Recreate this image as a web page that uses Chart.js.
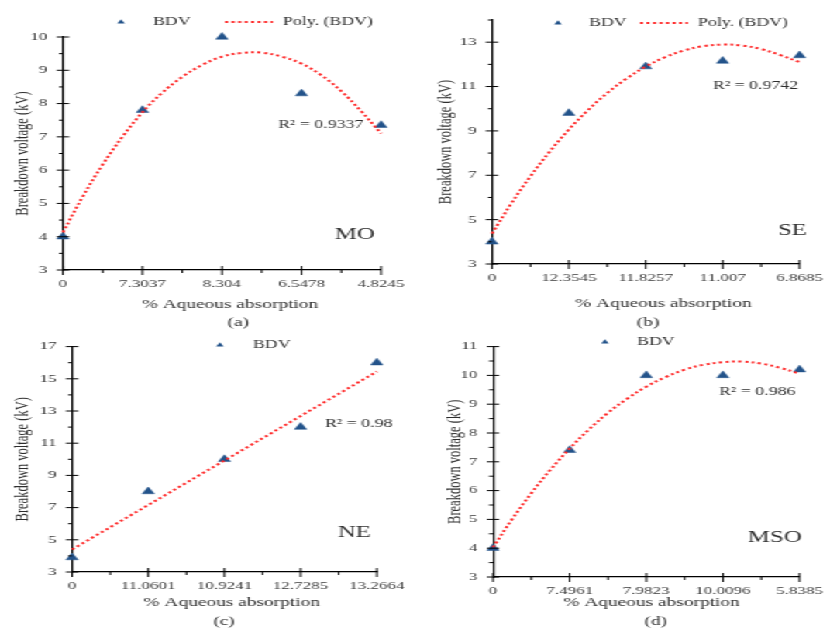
<!DOCTYPE html>
<html>
<head>
<meta charset="utf-8">
<script src="https://cdn.jsdelivr.net/npm/chart.js@4.4.1/dist/chart.umd.min.js"></script>
<style>
  html, body { margin: 0; padding: 0; background: #fff; overflow: hidden; }
  /* the reference figure is squashed sideways: draw it narrow, then stretch it */
  #fig { position: absolute; left: 0; top: 0; width: 539px; height: 632px;
         transform: scaleX(1.55); transform-origin: 0 0; }
  #fig canvas { position: absolute; }
</style>
</head>
<body>
<div id="fig">
  <canvas id="cA" width="269" height="330" style="left:0;top:0"></canvas>
  <canvas id="cB" width="270" height="330" style="left:269px;top:0"></canvas>
  <canvas id="cC" width="269" height="302" style="left:0;top:330px"></canvas>
  <canvas id="cD" width="270" height="302" style="left:269px;top:330px"></canvas>
</div>
<script>
const FONT = '"Liberation Serif", "Times New Roman", serif';
const TEXT = '#2e2e2e';
const BLUE = '#23538a';
const RED  = '#ff2a2a';

const trendX = [0, 0.25, 0.5, 0.75, 1, 1.25, 1.5, 1.75, 2, 2.25, 2.5, 2.75, 3, 3.25, 3.5, 3.75, 4];

// (a) MO
const catsA  = ['0', '7.3037', '8.304', '6.5478', '4.8245'];
const bdvA   = [4, 7.8, 10, 8.3, 7.35];
const polyA  = [4.13, 5.21, 6.17, 7.01, 7.74, 8.33, 8.8, 9.16, 9.41, 9.52, 9.53, 9.41, 9.2, 8.85, 8.37, 7.77, 7.1];

// (b) SE
const catsB  = ['0', '12.3545', '11.8257', '11.007', '6.8685'];
const bdvB   = [4, 9.8, 11.9, 12.15, 12.4];
const polyB  = [4.37, 5.72, 6.95, 8.06, 9.06, 9.94, 10.71, 11.36, 11.9, 12.32, 12.63, 12.82, 12.89, 12.85, 12.69, 12.42, 12.1];

// (c) NE, linear trend
const catsC  = ['0', '11.0601', '10.9241', '12.7285', '13.2664'];
const bdvC   = [3.9, 8, 10, 12, 16];
const linCx  = [0, 4];
const linC   = [4.4, 15.45];

// (d) MSO
const catsD  = ['0', '7.4961', '7.9823', '10.0096', '5.8385'];
const bdvD   = [4, 7.4, 10, 10, 10.2];
const polyD  = [4.03, 5.01, 5.91, 6.73, 7.46, 8.12, 8.7, 9.19, 9.61, 9.94, 10.2, 10.37, 10.46, 10.48, 10.41, 10.26, 10.06];

const panels = [
  { id: 'cA', cats: catsA, bdv: bdvA, tx: trendX, ty: polyA, poly: true,
    yMin: 3, yMax: 10, major: 1, minor: 0.5,
    name: 'MO', r2: 'R\u00b2 = 0.9337', cap: '(a)',
    box: { x: 0, y: 0, w: 269, h: 330 }, plot: { l: 40.6, r: 249.7, t: 37, b: 270 }, wy: 33.3,
    leg: { y: 22, tri: 78.1, bdv: 98.7, line: [145.2, 176.1], polyTxt: 182.6 },
    r2At: [179.4, 125], nameAt: [216.1, 235], xTitleAt: [148.4, 305], capAt: [153.7, 323] },
  { id: 'cB', cats: catsB, bdv: bdvB, tx: trendX, ty: polyB, poly: true,
    yMin: 3, yMax: 14, major: 2, minor: 1,
    name: 'SE', r2: 'R\u00b2 = 0.9742', cap: '(b)',
    box: { x: 269, y: 0, w: 270, h: 330 }, plot: { l: 317.4, r: 521.3, t: 20, b: 264 }, wy: 37.2,
    leg: { y: 23, tri: 360, bdv: 380, line: [412.9, 443.9], polyTxt: 450.3 },
    r2At: [460, 86], nameAt: [501.9, 231], xTitleAt: [428, 304], capAt: [418, 323] },
  { id: 'cC', cats: catsC, bdv: bdvC, tx: linCx, ty: linC, poly: false,
    yMin: 3, yMax: 17, major: 2, minor: 1,
    name: 'NE', r2: 'R\u00b2 = 0.98', cap: '(c)',
    box: { x: 0, y: 330, w: 269, h: 302 }, plot: { l: 46.5, r: 247.1, t: 341, b: 572 }, wy: 39.2,
    leg: { y: 345, tri: 141.9, bdv: 163.2 },
    r2At: [209.7, 424], nameAt: [218, 533], xTitleAt: [149.5, 603], capAt: [144.6, 622] },
  { id: 'cD', cats: catsD, bdv: bdvD, tx: trendX, ty: polyD, poly: false,
    yMin: 3, yMax: 11, major: 1, minor: 0.5,
    name: 'MSO', r2: 'R\u00b2 = 0.986', cap: '(d)',
    box: { x: 269, y: 330, w: 270, h: 302 }, plot: { l: 318.1, r: 521.3, t: 345, b: 577 }, wy: 31.4,
    leg: { y: 342, tri: 390.3, bdv: 411 },
    r2At: [463.9, 392], nameAt: [482.6, 538], xTitleAt: [420.4, 603], capAt: [423, 622] }
];

function onStep(v, base, step) {
  const k = (v - base) / step;
  return Math.abs(k - Math.round(k)) < 1e-6;
}

// Excel style tick marks, legend and the loose text labels
const figPlugin = {
  id: 'fig',
  afterDraw(chart, args, opts) {
    const p = opts.panel;
    if (!p) return;
    const ctx = chart.ctx;
    const { left, bottom } = chart.chartArea;
    const xs = chart.scales.x, ys = chart.scales.y;
    const ox = p.box.x, oy = p.box.y;
    ctx.save();

    ctx.strokeStyle = '#000';
    ctx.lineWidth = 1;
    ys.ticks.forEach(t => {
      const y = ys.getPixelForValue(t.value);
      const maj = onStep(t.value, p.yMin, p.major);
      ctx.beginPath();
      ctx.moveTo(maj ? left - 4 : left - 2.6, y);
      ctx.lineTo(maj ? left + 4 : left, y);
      ctx.stroke();
    });
    xs.ticks.forEach(t => {
      const x = xs.getPixelForValue(t.value);
      const maj = onStep(t.value, 0, 1);
      ctx.beginPath();
      ctx.moveTo(x, maj ? bottom - 4 : bottom);
      ctx.lineTo(x, maj ? bottom + 5 : bottom + 3);
      ctx.stroke();
    });

    // legend
    const L = p.leg;
    ctx.fillStyle = BLUE;
    Chart.helpers.drawPoint(ctx, { pointStyle: 'triangle', radius: 2.8, borderWidth: 0 }, L.tri - ox, L.y - oy);
    ctx.fillStyle = TEXT;
    ctx.textBaseline = 'middle';
    ctx.textAlign = 'left';
    ctx.font = '11.5px ' + FONT;
    ctx.fillText('BDV', L.bdv - ox, L.y - oy);
    if (p.poly) {
      ctx.fillText('Poly. (BDV)', L.polyTxt - ox, L.y - oy);
      ctx.strokeStyle = RED;
      ctx.lineWidth = 2;
      ctx.setLineDash([2, 2.2]);
      ctx.beginPath();
      ctx.moveTo(L.line[0] - ox, L.y - oy);
      ctx.lineTo(L.line[1] - ox, L.y - oy);
      ctx.stroke();
      ctx.setLineDash([]);
    }

    ctx.fillText(p.r2, p.r2At[0] - ox, p.r2At[1] - oy);
    ctx.font = '16px ' + FONT;
    ctx.fillText(p.name, p.nameAt[0] - ox, p.nameAt[1] - oy);

    ctx.textAlign = 'center';
    ctx.font = '12.5px ' + FONT;
    ctx.fillText('% Aqueous absorption', p.xTitleAt[0] - ox, p.xTitleAt[1] - oy);
    ctx.fillText(p.cap, p.capAt[0] - ox, p.capAt[1] - oy);
    ctx.restore();
  }
};

panels.forEach(p => {
  const axisGrid = { display: true, drawOnChartArea: false, drawTicks: false };
  const axisBorder = { display: true, color: '#000', width: 1.2 };
  new Chart(document.getElementById(p.id), {
    type: 'scatter',
    data: {
      datasets: [
        {
          label: p.poly ? 'Poly. (BDV)' : 'Linear (BDV)',
          data: p.tx.map((x, i) => ({ x: x, y: p.ty[i] })),
          showLine: true,
          borderColor: RED,
          borderWidth: 2,
          borderDash: [2, 2.2],
          tension: p.ty.length > 2 ? 0.4 : 0,
          pointRadius: 0,
          fill: false,
          clip: false
        },
        {
          label: 'BDV',
          data: p.bdv.map((v, i) => ({ x: i, y: v })),
          pointStyle: 'triangle',
          pointRadius: 4.5,
          backgroundColor: BLUE,
          borderColor: BLUE,
          borderWidth: 0.5,
          clip: false
        }
      ]
    },
    options: {
      responsive: false,
      animation: false,
      devicePixelRatio: 1,
      layout: {
        padding: {
          left: p.plot.l - p.box.x - p.wy,
          right: p.box.x + p.box.w - p.plot.r,
          top: p.plot.t - p.box.y,
          bottom: p.box.y + p.box.h - p.plot.b - 30
        }
      },
      plugins: {
        legend: { display: false },
        tooltip: { enabled: false },
        fig: { panel: p }
      },
      scales: {
        x: {
          type: 'linear',
          min: 0,
          max: 4,
          afterFit: s => { s.height = 30; },
          grid: axisGrid,
          border: axisBorder,
          ticks: {
            stepSize: 0.5,
            autoSkip: false,
            maxRotation: 0,
            padding: 8,
            color: '#3a3a3a',
            font: { family: FONT, size: 11 },
            callback: v => Number.isInteger(v) ? p.cats[v] : ''
          }
        },
        y: {
          type: 'linear',
          min: p.yMin,
          max: p.yMax,
          afterFit: s => { s.width = p.wy; },
          grid: axisGrid,
          border: axisBorder,
          ticks: {
            stepSize: p.minor,
            autoSkip: false,
            padding: 10,
            color: '#3a3a3a',
            font: { family: FONT, size: 11 },
            callback: v => onStep(v, p.yMin, p.major) ? String(v) : ''
          },
          title: {
            display: true,
            text: 'Breakdown voltage (kV)',
            color: TEXT,
            padding: 0,
            font: { family: FONT, size: 12.5 }
          }
        }
      }
    },
    plugins: [figPlugin]
  });
});
</script>
</body>
</html>
